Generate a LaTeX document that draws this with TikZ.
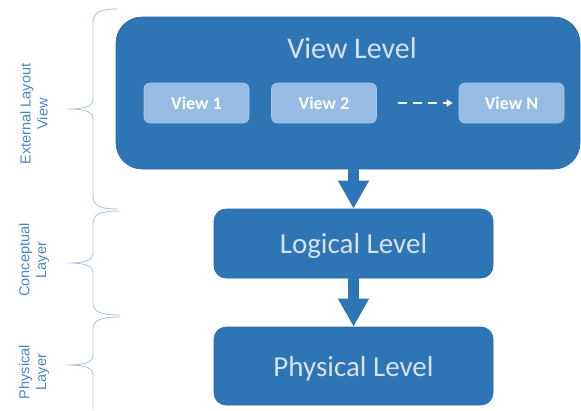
\documentclass[tikz,border=0pt]{standalone}
\usepackage{fontspec}
\setmainfont{Carlito}
\newfontfamily\sidefont{Liberation Sans}
\usepackage{xcolor}
\usetikzlibrary{positioning}
\usetikzlibrary{arrows.meta}
\definecolor{boxblue}{RGB}{46,117,182}
\definecolor{boxedge}{RGB}{40,104,165}
\definecolor{boxtext}{RGB}{214,226,240}
\definecolor{viewfill}{RGB}{150,188,228}
\definecolor{viewedge}{RGB}{170,200,232}
\definecolor{sideblue}{RGB}{72,134,204}
\definecolor{braceblue}{RGB}{168,194,224}

\begin{document}
\begin{tikzpicture}[x=1pt, y=-1pt, on grid, node distance=127.5pt,
    every node/.style={inner sep=0pt},
    bigbox/.style={draw=boxedge, fill=boxblue, rounded corners=12pt, line width=0.6pt, text=boxtext, text depth=0pt},
    viewbox/.style={draw=viewedge, fill=viewfill, rounded corners=6pt, line width=0.6pt, minimum width=105pt, minimum height=40pt,
      text=white, font=\fontsize{18}{18}\selectfont\bfseries},
    side/.style={rotate=90, align=center, text=sideblue, font=\sidefont\fontsize{14.5}{17}\selectfont},
    brace/.style={draw=braceblue, line width=0.8pt},
    blockarrow/.style={draw=boxblue, line width=11pt, -{Triangle[width=29pt,length=28pt]}},
    dasharrow/.style={draw=white, line width=2pt, dash pattern=on 9pt off 6pt, -{Triangle[width=7pt,length=6pt]},
      shorten <=21pt, shorten >=6pt}]

  \useasboundingbox (0,0) rectangle (581,410);

  % levels
  \node[bigbox, rounded corners=26pt, minimum width=464pt, minimum height=152pt] (view) at (348,93) {};
  \node[text=boxtext, font=\fontsize{30}{30}\selectfont] (viewtitle) at (352,48) {View Level};
  \node[bigbox, minimum width=279pt, minimum height=69pt, font=\fontsize{29}{29}\selectfont] (logical) at (353.5,243.5) {Logical Level};
  \node[bigbox, minimum width=279pt, minimum height=78pt, font=\fontsize{29}{29}\selectfont] (physical) at (353.5,366) {Physical Level};

  % views
  \node[viewbox] (view1) at (196.5,103) {View 1};
  \node[viewbox] (view2) [right=of view1] {View 2};
  \node[viewbox] (viewN) [right=of view2, xshift=60pt] {View N};

  % side labels
  \node[side] (external) at (34,114) {External Layout\\View};
  \node[side] (conceptual) at (34,260) {Conceptual\\Layer};
  \node[side] (physlayer) at (34,372) {Physical\\Layer};

  % braces
  \draw[brace] (118,9) .. controls (100,9) and (93,12) .. (93,24) -- (93,99)
    .. controls (93,106) and (86,109) .. (68,109) .. controls (86,109) and (93,112) .. (93,119)
    -- (93,196) .. controls (93,206) and (100,209) .. (118,209);
  \draw[brace] (120,211) .. controls (100,211) and (93,214) .. (93,224) -- (93,253)
    .. controls (93,260) and (86,263) .. (68,263) .. controls (86,263) and (93,266) .. (93,273)
    -- (93,302) .. controls (93,312) and (100,315) .. (120,315);
  \draw[brace] (120,317) .. controls (100,317) and (93,320) .. (93,330) -- (93,355)
    .. controls (93,362) and (86,365) .. (67,365) .. controls (86,365) and (93,368) .. (93,375)
    -- (93,410);

  % connectors
  \draw[blockarrow] (logical.north |- view.south) -- (logical.north);
  \draw[blockarrow] (logical.south) -- (physical.north);
  \draw[dasharrow] (view2.east) -- (viewN.west);

\end{tikzpicture}
\end{document}
